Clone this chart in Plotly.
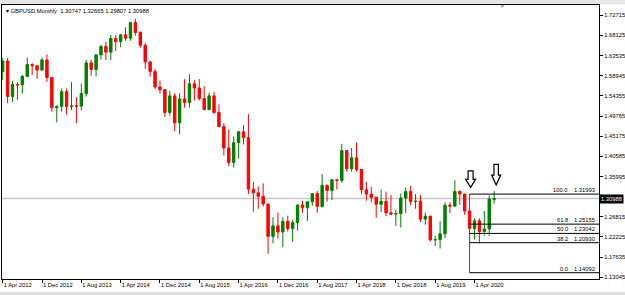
import pandas as pd
import plotly.graph_objects as go

# ---------------- data (GBPUSD monthly) ----------------
months = [p.strftime("%b %Y") for p in pd.period_range("2012-04", "2020-08", freq="M")]

opens = [1.5993, 1.6230, 1.5423, 1.5695, 1.5688, 1.5882, 1.6149, 1.6123, 1.6025,
         1.6255, 1.5855, 1.5167, 1.5196, 1.5533, 1.5196, 1.5210, 1.5203, 1.5490, 1.6188, 1.6038, 1.6370,
         1.6560, 1.6434, 1.6744, 1.6672, 1.6827, 1.6750, 1.7105, 1.6881, 1.6590, 1.6211, 1.5994, 1.5640,
         1.5577, 1.5059, 1.5436, 1.4823, 1.5366, 1.5284, 1.5712, 1.5616, 1.5374, 1.5125, 1.5437, 1.5060,
         1.4737, 1.4250, 1.3920, 1.4370, 1.4617, 1.4483, 1.3312, 1.3228, 1.3149, 1.2973, 1.2237, 1.2475,
         1.2337, 1.2580, 1.2412, 1.2550, 1.2950, 1.2888, 1.3025, 1.3210, 1.2920, 1.3398, 1.3282, 1.3525,
         1.3508, 1.4190, 1.3777, 1.4025, 1.3760, 1.3300, 1.3200, 1.3128, 1.2967, 1.3033, 1.2773, 1.2745,
         1.2756, 1.3110, 1.3260, 1.3032, 1.3035, 1.2629, 1.2696, 1.2157, 1.2161, 1.2295, 1.2945, 1.2927,
         1.3260, 1.3200, 1.2815, 1.2417, 1.2590, 1.2349, 1.2405, 1.30747]
highs = [1.6302, 1.6300, 1.5777, 1.5749, 1.5911, 1.6309, 1.6180, 1.6126, 1.6308,
         1.6380, 1.5865, 1.5221, 1.5605, 1.5605, 1.5750, 1.5410, 1.5717, 1.6259, 1.6260, 1.6385, 1.6602,
         1.6668, 1.6823, 1.6821, 1.6841, 1.6996, 1.7110, 1.7192, 1.6908, 1.6644, 1.6227, 1.6045, 1.5785,
         1.5588, 1.5552, 1.5497, 1.5498, 1.5815, 1.5930, 1.5800, 1.5819, 1.5660, 1.5509, 1.5529, 1.5242,
         1.4813, 1.4669, 1.4515, 1.4638, 1.4770, 1.5018, 1.3481, 1.3371, 1.3445, 1.2977, 1.2675, 1.2774,
         1.2674, 1.2706, 1.2615, 1.2965, 1.3048, 1.3030, 1.3212, 1.3268, 1.3658, 1.3420, 1.3549, 1.3549,
         1.4345, 1.4200, 1.4245, 1.4377, 1.3764, 1.3473, 1.3362, 1.3135, 1.3298, 1.3257, 1.3176, 1.2840,
         1.3215, 1.3350, 1.3381, 1.3197, 1.3176, 1.2783, 1.2708, 1.2249, 1.2583, 1.3013, 1.3012, 1.3514,
         1.3284, 1.3200, 1.31993, 1.2647, 1.2646, 1.2813, 1.3170, 1.32665]
lows = [1.5804, 1.5268, 1.5300, 1.5347, 1.5490, 1.5861, 1.5911, 1.5827, 1.6000,
        1.5753, 1.5072, 1.4832, 1.5074, 1.5008, 1.5116, 1.4814, 1.5101, 1.5423, 1.5895, 1.5878, 1.6262,
        1.6254, 1.6252, 1.6461, 1.6543, 1.6692, 1.6693, 1.6810, 1.6535, 1.6051, 1.5875, 1.5591, 1.5486,
        1.4952, 1.4989, 1.4634, 1.4566, 1.5170, 1.5170, 1.5330, 1.5330, 1.5107, 1.5106, 1.5027, 1.4734,
        1.4080, 1.3836, 1.3803, 1.4004, 1.4331, 1.3200, 1.2798, 1.2866, 1.2916, 1.1841, 1.2082, 1.2197,
        1.1987, 1.2345, 1.2109, 1.2365, 1.2772, 1.2589, 1.2932, 1.2774, 1.2893, 1.3027, 1.3063, 1.3302,
        1.3457, 1.3713, 1.3710, 1.3713, 1.3204, 1.3048, 1.3010, 1.2662, 1.2785, 1.2695, 1.2723, 1.2475,
        1.2438, 1.2773, 1.2945, 1.2866, 1.2559, 1.2506, 1.2119, 1.2015, 1.1959, 1.2195, 1.2769, 1.2900,
        1.2954, 1.2725, 1.14092, 1.2165, 1.2076, 1.2252, 1.2251, 1.29807]
closes = [1.6230, 1.5423, 1.5695, 1.5688, 1.5882, 1.6149, 1.6123, 1.6025, 1.6255,
          1.5855, 1.5167, 1.5196, 1.5533, 1.5196, 1.5205, 1.5203, 1.5490, 1.6188, 1.6038, 1.6370, 1.6560,
          1.6434, 1.6744, 1.6672, 1.6827, 1.6750, 1.7105, 1.6881, 1.6590, 1.6211, 1.5994, 1.5640, 1.5577,
          1.5059, 1.5436, 1.4823, 1.5366, 1.5284, 1.5712, 1.5616, 1.5374, 1.5125, 1.5437, 1.5060, 1.4737,
          1.4250, 1.3920, 1.4370, 1.4617, 1.4483, 1.3312, 1.3228, 1.3149, 1.2973, 1.2237, 1.2475, 1.2337,
          1.2580, 1.2412, 1.2550, 1.2950, 1.2888, 1.3025, 1.3210, 1.2920, 1.3398, 1.3282, 1.3525, 1.3508,
          1.4190, 1.3777, 1.4025, 1.3760, 1.3300, 1.3200, 1.3125, 1.2967, 1.3033, 1.2773, 1.2745, 1.2756,
          1.3110, 1.3260, 1.3032, 1.3035, 1.2629, 1.2696, 1.2157, 1.2161, 1.2295, 1.2945, 1.2927, 1.3260,
          1.3200, 1.2815, 1.2417, 1.2590, 1.2349, 1.2405, 1.3090, 1.30988]

tick_every = 8
tick_labels = ["1 Apr 2012", "1 Dec 2012", "1 Aug 2013", "1 Apr 2014", "1 Dec 2014",
               "1 Aug 2015", "1 Apr 2016", "1 Dec 2016", "1 Aug 2017", "1 Apr 2018",
               "1 Dec 2018", "1 Aug 2019", "1 Apr 2020"]
# (the 1.31405 label sits under the current-price box in the reference)
price_ticks = [1.13045, 1.17635, 1.22225, 1.26815, 1.35995, 1.40585,
               1.45175, 1.49765, 1.54355, 1.58945, 1.63535, 1.68125, 1.72715]

fib_bar = "Mar 2020"
fib_levels = [0.0, 38.2, 50.0, 61.8, 100.0]
arrow_bars = ["Mar 2020", "Aug 2020"]

x_range = [-0.14, 121.33]
y_range = [1.12658, 1.75061]

FONT = "Liberation Sans, Arial, sans-serif"
FS = 5.8

# ---------------- figure ----------------
x = list(range(len(months)))
fig = go.Figure()
fig.add_trace(go.Candlestick(
    x=x, open=opens, high=highs, low=lows, close=closes,
    increasing=dict(line=dict(color="#007f00", width=1), fillcolor="#007f00"),
    decreasing=dict(line=dict(color="#ff0000", width=1), fillcolor="#ff0000"),
    hoverinfo="skip", showlegend=False,
))

shapes = []
annotations = []

# current price line
last = closes[-1]
shapes.append(dict(type="line", xref="paper", x0=0, x1=1, yref="y", y0=last, y1=last,
                   line=dict(color="#c8c8c8", width=1.5), layer="below"))

# Fibonacci retracement on the March 2020 bar
fi = months.index(fib_bar)
f_lo, f_hi = lows[fi], highs[fi]
for lv in fib_levels:
    p = f_lo + (f_hi - f_lo) * lv / 100.0
    shapes.append(dict(type="line", xref="x", x0=fi, x1=x_range[1], yref="y", y0=p, y1=p,
                       line=dict(color="black", width=1)))
    annotations.append(dict(xref="paper", x=1, xanchor="right", xshift=-29,
                            yref="y", y=p, yanchor="bottom", yshift=-1,
                            text=f"{lv:.1f}", showarrow=False,
                            font=dict(family=FONT, size=FS, color="black")))
    annotations.append(dict(xref="paper", x=1, xanchor="right", xshift=-2,
                            yref="y", y=p, yanchor="bottom", yshift=-1,
                            text=f"{p:.5f}", showarrow=False,
                            font=dict(family=FONT, size=FS, color="black")))

# hollow down arrows above bars
arrow_paths = [
    "M 1,6.7 L 6,14.7 L 3.5,14.7 L 3.5,23.3 L -1.5,23.3 L -1.5,14.7 L -4,14.7 Z",
    "M 2,6.1 L 6.5,16.1 L 4.2,16.1 L 4.2,26.8 L -0.2,26.8 L -0.2,16.1 L -2.5,16.1 Z",
]
for name, path in zip(arrow_bars, arrow_paths):
    ai = months.index(name)
    shapes.append(dict(type="path", xref="x", yref="y", xsizemode="pixel", ysizemode="pixel",
                       xanchor=ai, yanchor=highs[ai], path=path,
                       fillcolor="white", line=dict(color="black", width=1.2)))

# window chrome: top strip, bottom strip, chart-shift marker
shapes.append(dict(type="rect", xref="paper", yref="paper", x0=-0.01, x1=1.05,
                   y0=1.0018, y1=1.02, fillcolor="#e6e6e6", line=dict(width=0), layer="below"))
shapes.append(dict(type="rect", xref="paper", yref="paper", x0=-0.01, x1=1.05,
                   y0=-0.0584, y1=-0.0475, fillcolor="#dcdcdc", line=dict(width=0), layer="below"))
shapes.append(dict(type="path", xref="paper", yref="paper", xsizemode="pixel", ysizemode="pixel",
                   xanchor=0.838, yanchor=1.0, path="M -2,0 L 2,0 L 0,-3 Z",
                   fillcolor="#a0a0a0", line=dict(width=0)))

# header
annotations.append(dict(xref="paper", x=0, xanchor="left", xshift=2,
                        yref="paper", y=1, yanchor="top", yshift=-1,
                        text=f"▾ GBPUSD,Monthly  {opens[-1]:.5f} {highs[-1]:.5f} {lows[-1]:.5f} {closes[-1]:.5f}",
                        showarrow=False, font=dict(family=FONT, size=FS, color="black")))

# current price box
annotations.append(dict(xref="paper", x=1, xanchor="left", xshift=0,
                        yref="y", y=last, yanchor="middle",
                        text=f"{last:.5f}", showarrow=False, bgcolor="black", borderpad=1,
                        font=dict(family=FONT, size=FS, color="white")))

fig.update_layout(
    width=625, height=295,
    margin=dict(l=2, r=26, t=5, b=16, autoexpand=False),
    paper_bgcolor="white", plot_bgcolor="white",
    shapes=shapes, annotations=annotations,
    font=dict(family=FONT, size=FS, color="black"),
    xaxis=dict(range=x_range, rangeslider=dict(visible=False),
               tickvals=list(range(0, len(months), tick_every))[:len(tick_labels)],
               ticktext=tick_labels, ticks="outside", ticklen=3, tickcolor="black",
               ticklabelposition="outside right",
               showline=True, linecolor="black", linewidth=1, mirror=True,
               showgrid=False, zeroline=False, tickfont=dict(family=FONT, size=FS)),
    yaxis=dict(range=y_range, side="right", tickvals=price_ticks,
               ticktext=[f"{v:.5f}" for v in price_ticks],
               ticks="outside", ticklen=3, tickcolor="black",
               showline=True, linecolor="black", linewidth=1, mirror=True,
               showgrid=False, zeroline=False, tickfont=dict(family=FONT, size=FS)),
    hovermode=False,
)

fig.write_html("out.html")
